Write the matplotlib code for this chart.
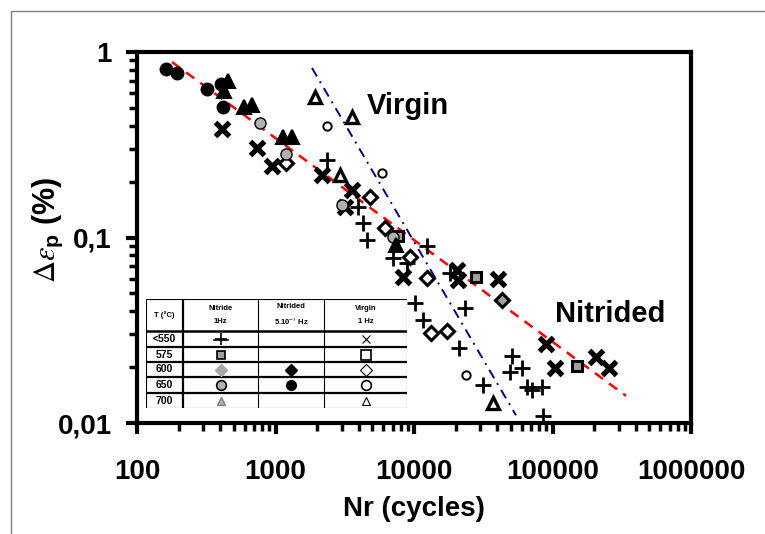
import numpy as np
import matplotlib
matplotlib.use('agg')
import matplotlib.pyplot as plt
from matplotlib.patches import Rectangle

plt.rcParams['font.family'] = ['Liberation Sans', 'DejaVu Sans']
plt.rcParams['mathtext.fontset'] = 'stix'

# nitrided 5.10-3 Hz, 650 C (black circles)
n650s_x = [162, 194, 320, 404, 418]
n650s_y = [0.81, 0.77, 0.632, 0.672, 0.505]
# nitrided 1 Hz, 700 C (dark triangles)
n700_x = [454, 425, 592, 676, 1133, 1315, 7413]
n700_y = [0.698, 0.617, 0.505, 0.518, 0.348, 0.348, 0.0911]
# nitrided 1 Hz, 650 C (grey circles)
n650_x = [773, 1191, 3020, 7050]
n650_y = [0.414, 0.282, 0.150, 0.1006]
# nitrided 1 Hz, 600 C (grey diamonds)
n600_x = [43150]
n600_y = [0.046]
# nitrided 1 Hz, 575 C (grey squares)
n575_x = [7664, 28030, 150300]
n575_y = [0.102, 0.0612, 0.0203]
# nitrided 1 Hz, <550 C (plus)
n550_x = [2354, 3941, 4283, 4576, 7050, 8901, 12410, 18200, 10170, 11610,
          21130, 23350, 31490, 51000, 49320, 60250, 65460, 71120, 83960, 85380]
n550_y = [0.262, 0.146, 0.120, 0.097, 0.0775, 0.0729, 0.090, 0.0644, 0.0443, 0.0359,
          0.0254, 0.0417, 0.0160, 0.0230, 0.0188, 0.0198, 0.0156, 0.0151, 0.0156, 0.0109]
# virgin, <550 C (thick crosses)
v550_x = [411, 735, 943, 2167, 3176, 3567, 8327, 20440, 20780, 40420,
          89770, 104200, 206000, 255700]
v550_y = [0.385, 0.304, 0.243, 0.217, 0.146, 0.180, 0.0612, 0.0668, 0.059, 0.0598,
          0.0267, 0.0198, 0.0227, 0.0198]
# virgin 700 C (open triangles)
v700_x = [1928, 3567, 2922, 37170]
v700_y = [0.572, 0.446, 0.217, 0.0128]
# virgin 650 C (open circles)
v650_x = [2354, 5875, 23740]
v650_y = [0.399, 0.2227, 0.0181]
# virgin 600 C (open diamonds)
v600_x = [1191, 4812, 6174, 9355, 12410, 13270, 17300]
v600_y = [0.252, 0.165, 0.1125, 0.0785, 0.0605, 0.0306, 0.0313]

# trend lines (end points)
nitrided_fit_x = [179, 339600]
nitrided_fit_y = [0.883, 0.0140]
virgin_fit_x = [1834, 54500]
virgin_fit_y = [0.820, 0.0110]

xticks = [100, 1000, 10000, 100000, 1000000]
xticklabels = ['100', '1000', '10000', '100000', '1000000']
yticks = [0.01, 0.1, 1]
yticklabels = ['0,01', '0,1', '1']

fig = plt.figure(figsize=(7.65, 5.34), dpi=100)
fig.patches.append(Rectangle((11 / 765, -0.1), 1.2, 1 - 11 / 534 + 0.1, transform=fig.transFigure,
                             fill=False, edgecolor='#808080', linewidth=1))
ax = fig.add_axes([137 / 765, 1 - 423 / 534, 554 / 765, 371 / 534])
ax.set_xscale('log')
ax.set_yscale('log')

ax.plot(nitrided_fit_x, nitrided_fit_y, color='red', linestyle=(0, (4, 3)), linewidth=1.8, zorder=1)
ax.plot(virgin_fit_x, virgin_fit_y, color='#00008B', linestyle=(0, (5, 3, 1, 3)), linewidth=1.4, zorder=1)

ax.plot(n550_x, n550_y, '+', color='black', ms=11, mew=2.0, ls='none')
ax.plot(v550_x, v550_y, 'x', color='black', ms=10, mew=3.8, ls='none')
ax.plot(v700_x, v700_y, '^', mfc='white', mec='black', ms=9, mew=2.4, ls='none')
ax.plot(v650_x, v650_y, 'o', mfc='white', mec='black', ms=6, mew=1.4, ls='none')
ax.plot(v600_x, v600_y, 'D', mfc='white', mec='black', ms=7, mew=2.2, ls='none')
ax.plot(n575_x, n575_y, 's', mfc='#a0a0a0', mec='black', ms=7, mew=2.2, ls='none')
ax.plot(n600_x, n600_y, 'D', mfc='#a0a0a0', mec='black', ms=7, mew=2.2, ls='none')
ax.plot(n650_x, n650_y, 'o', mfc='#b0b0b0', mec='black', ms=8, mew=1.0, ls='none')
ax.plot(n700_x, n700_y, '^', mfc='black', mec='black', ms=10, mew=1.5, ls='none')
ax.plot(n650s_x, n650s_y, 'o', mfc='black', mec='black', ms=9, mew=1.0, ls='none')

ax.text(9052, 0.51, 'Virgin', fontsize=21, fontweight='bold', ha='center', va='center')
ax.text(262000, 0.0385, 'Nitrided', fontsize=21, fontweight='bold', ha='center', va='center')

ax.set_xlim(100, 1000000)
ax.set_ylim(0.01, 1)
ax.set_xticks(xticks)
ax.set_xticklabels(xticklabels)
ax.set_yticks(yticks)
ax.set_yticklabels(yticklabels)
for s in ax.spines.values():
    s.set_linewidth(3)
ax.tick_params(which='major', direction='out', length=8, width=3, labelsize=20)
ax.tick_params(which='minor', direction='out', length=6, width=2.5)
ax.tick_params(axis='x', which='major', pad=18)
ax.tick_params(axis='y', which='major', pad=10)
for lab in ax.get_xticklabels() + ax.get_yticklabels():
    lab.set_fontweight('bold')
ax.set_xlabel('Nr (cycles)', fontsize=20, fontweight='bold', labelpad=8)
ax.set_ylabel(r'$\Delta\varepsilon_{\mathregular{p}}$ (%)', fontsize=22, fontweight='bold')
ax.yaxis.set_label_coords(-0.13, 0.52)

# inset table (legend)
tab = fig.add_axes([146 / 765, 1 - 408 / 534, 261 / 765, 109 / 534])
tab.set_xlim(0, 261)
tab.set_ylim(109, 0)
tab.axis('off')
tab.add_patch(Rectangle((0, 0), 261, 109, facecolor='white', edgecolor='black', linewidth=0.8))
tab.plot([0, 261], [32, 32], color='black', lw=1.8)
for yy in [48, 63, 78, 94]:
    tab.plot([0, 261], [yy, yy], color='black', lw=1.6)
tab.plot([37, 37], [0, 109], color='black', lw=1.6)
tab.plot([112, 112], [0, 109], color='black', lw=0.8)
tab.plot([178, 178], [0, 109], color='black', lw=0.8)

col_c = [18.5, 74.5, 145, 219.5]
row_c = [40, 55.5, 70.5, 86, 101.5]
row_labels = ['<550', '575', '600', '650', '700']
tab.text(col_c[0], 16, 'T (°C)', fontsize=5.5, fontweight='bold', ha='center', va='center')
tab.text(col_c[1], 16, 'Nitride\n\n1Hz', fontsize=5.5, fontweight='bold', ha='center', va='center', linespacing=0.9)
tab.text(col_c[2], 16, 'Nitrided\n\n5.10$^{-3}$ Hz', fontsize=5.5, fontweight='bold', ha='center', va='center', linespacing=0.9)
tab.text(col_c[3], 16, 'Virgin\n\n1 Hz', fontsize=5.5, fontweight='bold', ha='center', va='center', linespacing=0.9)
for r, lab in zip(row_c, row_labels):
    tab.text(col_c[0], r, lab, fontsize=7.5, fontweight='bold', ha='center', va='center')

tab.plot(col_c[1], row_c[0], '+', color='black', ms=9, mew=1.2)
tab.plot([col_c[1] - 7, col_c[1] + 7], [row_c[0] + 1, row_c[0] + 1], color='black', lw=1.2)
tab.plot(col_c[1], row_c[1], 's', mfc='#a0a0a0', mec='black', ms=6, mew=1.2)
tab.plot(col_c[1], row_c[2], 'D', mfc='#a8a8a8', mec='#a8a8a8', ms=6)
tab.plot(col_c[1], row_c[3], 'o', mfc='#b0b0b0', mec='black', ms=7, mew=1.2)
tab.plot(col_c[1], row_c[4], '^', mfc='#b0b0b0', mec='#808080', ms=6, mew=1)
tab.plot(col_c[2], row_c[2], 'D', mfc='black', mec='black', ms=6)
tab.plot(col_c[2], row_c[3], 'o', mfc='black', mec='black', ms=7)
tab.plot(col_c[3], row_c[0], 'x', color='black', ms=6, mew=0.8)
tab.plot(col_c[3], row_c[1], 's', mfc='white', mec='black', ms=7, mew=1.2)
tab.plot(col_c[3], row_c[2], 'D', mfc='white', mec='black', ms=6, mew=0.8)
tab.plot(col_c[3], row_c[3], 'o', mfc='white', mec='black', ms=7, mew=1.2)
tab.plot(col_c[3], row_c[4], '^', mfc='white', mec='black', ms=6, mew=0.8)

fig.savefig('out.png', dpi=100)
